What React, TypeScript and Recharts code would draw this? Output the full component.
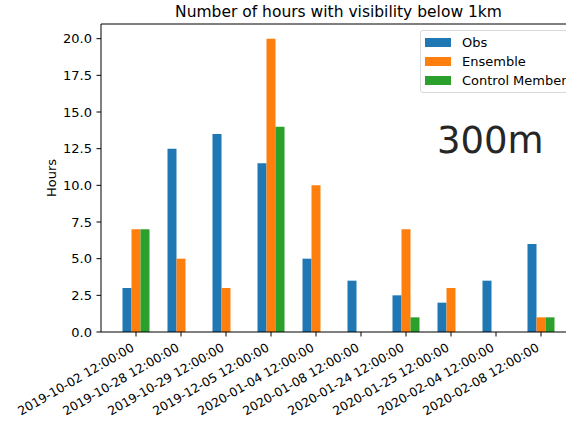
import React from 'react';
import {
  BarChart,
  Bar,
  XAxis,
  YAxis,
  ReferenceLine,
} from 'recharts';

// Fechas de cada grupo de barras
const dates = [
  '2019-10-02 12:00:00',
  '2019-10-28 12:00:00',
  '2019-10-29 12:00:00',
  '2019-12-05 12:00:00',
  '2020-01-04 12:00:00',
  '2020-01-08 12:00:00',
  '2020-01-24 12:00:00',
  '2020-01-25 12:00:00',
  '2020-02-04 12:00:00',
  '2020-02-08 12:00:00',
];

// Horas con visibilidad < 1km
const obs = [3, 12.5, 13.5, 11.5, 5, 3.5, 2.5, 2, 3.5, 6];
const ensemble = [7, 5, 3, 20, 10, 0, 7, 3, 0, 1];
const control = [7, 0, 0, 14, 0, 0, 1, 0, 0, 1];

const yTicks = [0, 2.5, 5, 7.5, 10, 12.5, 15, 17.5, 20];

const series = [
  { key: 'obs', name: 'Obs', color: '#1f77b4' },
  { key: 'ensemble', name: 'Ensemble', color: '#ff7f0e' },
  { key: 'control', name: 'Control Member', color: '#2ca02c' },
];

const data = dates.map((d, i) => ({
  date: d,
  obs: obs[i],
  ensemble: ensemble[i],
  control: control[i],
}));

const FONT = 'DejaVu Sans, sans-serif';

// Etiqueta del eje X rotada 30 grados, alineada a la derecha como en matplotlib
const DateTick = (props: any) => {
  const { x, payload } = props;
  const tx = x - 1;
  const ty = 350;
  return (
    <text
      x={tx}
      y={ty}
      textAnchor="end"
      fontSize={12.4}
      fontFamily={FONT}
      fill="#000"
      transform={`rotate(-30, ${tx}, ${ty})`}
    >
      {payload.value}
    </text>
  );
};

export default function App() {
  return (
    <div
      style={{
        position: 'absolute',
        left: 0,
        top: 0,
        width: 566,
        height: 421,
        overflow: 'hidden',
        background: '#fff',
        fontFamily: FONT,
      }}
    >
      <BarChart
        width={580}
        height={421}
        data={data}
        margin={{ top: 24, right: 4, bottom: 0, left: 0 }}
        barGap={0}
        barSize={9}
      >
        <XAxis
          dataKey="date"
          interval={0}
          height={89}
          padding={{ left: 12.5, right: 12.5 }}
          stroke="#000"
          tickSize={4.5}
          tick={<DateTick />}
        />
        <YAxis
          width={101}
          domain={[0, 21]}
          ticks={yTicks}
          tickFormatter={(v: number) => v.toFixed(1)}
          stroke="#000"
          tickSize={4.5}
          tickMargin={4.5}
          tick={{ fill: '#000', fontSize: 13, fontFamily: FONT }}
          label={{
            value: 'Hours',
            angle: -90,
            position: 'insideLeft',
            offset: 51,
            style: { textAnchor: 'middle', fill: '#000', fontSize: 13, fontFamily: FONT },
          }}
        />
        <ReferenceLine y={21} stroke="#000" />
        {series.map((s) => (
          <Bar key={s.key} dataKey={s.key} name={s.name} fill={s.color} isAnimationActive={false} />
        ))}
      </BarChart>
      {/* Título */}
      <div
        style={{
          position: 'absolute',
          left: 101,
          width: 475,
          top: 2,
          textAlign: 'center',
          fontSize: 15.5,
          lineHeight: '20px',
          color: '#000',
        }}
      >
        Number of hours with visibility below 1km
      </div>
      {/* Anotación */}
      <div
        style={{
          position: 'absolute',
          left: 437,
          top: 119,
          fontSize: 37,
          lineHeight: '44px',
          color: '#262626',
        }}
      >
        300m
      </div>
      {/* Leyenda */}
      <div
        style={{
          position: 'absolute',
          left: 420,
          top: 30,
          width: 160,
          boxSizing: 'border-box',
          border: '1px solid #d9d9d9',
          borderRadius: 3,
          background: 'rgba(255,255,255,0.8)',
          padding: '2px 0 2px 4px',
          fontSize: 13,
          color: '#000',
        }}
      >
        {series.map((s) => (
          <div key={s.key} style={{ display: 'flex', alignItems: 'center', height: 19 }}>
            <span style={{ display: 'inline-block', width: 26, height: 9, background: s.color, marginRight: 11 }} />
            <span>{s.name}</span>
          </div>
        ))}
      </div>
    </div>
  );
}
